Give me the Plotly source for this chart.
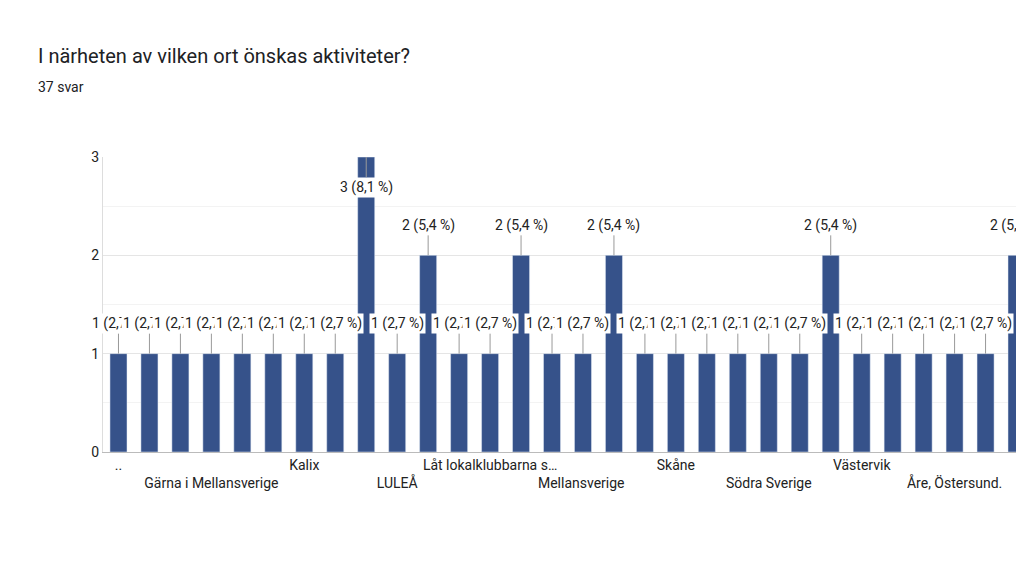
import plotly.graph_objects as go

categories = ["..", "Boden", "Falun", "Gärna i Mellansverige", "Göteborg", "Haparanda",
              "Kalix", "Kiruna", "Lule", "LULEÅ", "Luleå", "Lycksele",
              "Låt lokalklubbarna s…", "Malmö", "Mellansverige", "Mellansverige ", "Norrbotten", "Piteå",
              "Skåne", "Skellefteå", "Stockholm", "Södra Sverige", "Sundsvall", "Umeå",
              "Västervik", "Västerås", "Växjö", "Åre, Östersund.", "Örebro", "Östersund"]
values = [1, 1, 1, 1, 1, 1, 1, 1, 3, 1, 2, 1, 1, 2, 1, 1, 2, 1, 1, 1, 1, 1, 1, 2, 1, 1, 1, 1, 1, 2]
total = 37

idx = list(range(len(categories)))
fig = go.Figure(go.Bar(x=idx, y=values, marker_color="#36528a", width=0.55,
                       hoverinfo="skip"))

ticktext = []
tickvals = []
for n, i in enumerate(range(0, len(categories), 3)):
    tickvals.append(i)
    ticktext.append(categories[i] if n % 2 == 0 else "<br>" + categories[i])

for i, v in zip(idx, values):
    pct = f"{v / total * 100:.1f}".replace(".", ",")
    fig.add_annotation(x=i, y=v, text=f"{v} ({pct} %)", showarrow=True, arrowhead=0,
                       arrowcolor="#999", arrowwidth=1, ax=0, ay=(30 if v == 3 else -30),
                       bgcolor="white", font=dict(size=14, color="#222"))

fig.add_annotation(text="I närheten av vilken ort önskas aktiviteter?", xref="paper", yref="paper",
                   x=-0.072, y=1.0, yshift=115, xanchor="left", showarrow=False,
                   font=dict(size=20, color="#202124"))
fig.add_annotation(text="37 svar", xref="paper", yref="paper", x=-0.072, y=1.0, yshift=80,
                   xanchor="left", showarrow=False, font=dict(size=14, color="#202124"))

fig.update_layout(
    width=1024, height=576, margin=dict(l=95, r=0, t=149, b=132),
    plot_bgcolor="white", paper_bgcolor="white", showlegend=False,
    font=dict(family="Roboto", size=14, color="#222"),
    xaxis=dict(range=[-0.5, 29.5], tickvals=tickvals, ticktext=ticktext, showgrid=False,
               showline=True, linecolor="#bbb", ticks="", tickangle=0),
    yaxis=dict(range=[0, 3], tickvals=[0, 1, 2, 3], showgrid=True, gridcolor="#e5e5e5",
               minor=dict(dtick=0.5, showgrid=True, gridcolor="#f3f3f3"),
               showline=True, linecolor="#ddd", zeroline=False, ticklen=0),
)
fig.write_html("out.html")
